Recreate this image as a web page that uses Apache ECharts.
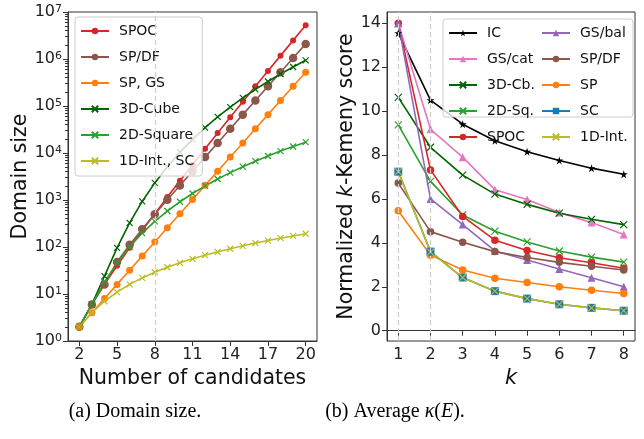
<!DOCTYPE html>
<html><head><meta charset="utf-8">
<script src="https://cdn.jsdelivr.net/npm/echarts@6/dist/echarts.min.js"></script>
<style>html,body{margin:0;padding:0;background:#fff}#c{width:644px;height:439px}</style>
</head><body><div id="c"></div>
<script>
// ---- Panel (a): domain size ----
const candidates = [2,3,4,5,6,7,8,9,10,11,12,13,14,15,16,17,18,19,20];
const spoc   = [2,6,16,40,96,224,512,1152,2560,5632,12288,26624,57344,122880,262144,557056,1179648,2490368,5242880];
const spdf   = [2,6,16,48,112,240,496,1008,2032,4080,8176,16368,32752,65520,131056,262128,524272,1048560,2097136];
const spgs   = [2,4,8,16,32,64,128,256,512,1024,2048,4096,8192,16384,32768,65536,131072,262144,524288];
const cube3  = [2,6,24,96,326,932,2311,5119,10366,19526,34662,58566,94914,148436,225101,332317,479146,676534,937556];
const square2= [2,6,18,46,101,197,351,583,916,1376,1992,2796,3823,5111,6701,8637,10966,13738,17006];
const int1   = [2,4,7,11,16,22,29,37,46,56,67,79,92,106,121,137,154,172,191];
const xTicksA = [2,5,8,11,14,17,20];
const markA = 8;

// ---- Panel (b): normalized k-Kemeny score ----
const kVals  = [1,2,3,4,5,6,7,8];
const ic     = [13.55,10.5,9.4,8.65,8.15,7.75,7.4,7.12];
const gscat  = [14.0,9.17,7.9,6.42,5.97,5.38,4.92,4.38];
const cube3k = [10.62,8.35,7.08,6.22,5.75,5.35,5.07,4.83];
const sq2k   = [9.37,6.8,5.27,4.53,4.04,3.63,3.35,3.12];
const spock  = [14.0,7.32,5.2,4.12,3.65,3.32,3.09,2.84];
const gsbal  = [14.0,6.0,4.83,3.63,3.22,2.81,2.41,2.0];
const spdfk  = [6.72,4.51,4.03,3.6,3.33,3.11,2.93,2.76];
const spk    = [5.46,3.44,2.76,2.39,2.19,2.0,1.84,1.69];
const sck    = [7.24,3.6,2.42,1.8,1.46,1.2,1.04,0.91];
const int1k  = [7.24,3.58,2.42,1.8,1.46,1.2,1.04,0.91];
const xTicksB = [1,2,3,4,5,6,7,8];
const yTicksB = [0,2,4,6,8,10,12,14];
const marksB = [1,2];

const FONT = 'DejaVu Sans';
const XSYM = 'path://M0,0L10,10M10,0L0,10';
const STAR = 'path://M0,-10L2.245,-3.09L9.511,-3.09L3.633,1.18L5.878,8.09L0,3.82L-5.878,8.09L-3.633,1.18L-9.511,-3.09L-2.245,-3.09Z';

const minorA = [];
for (let d = 1; d < 1e7; d *= 10) for (let m = 2; m <= 9; m++) minorA.push(d * m);

function zip(xs, ys){ return xs.map((x,i)=>[x, ys[i]]); }
function ser(name, xs, ys, color, symbol, size, gi, isX){
  return {
    name, type:'line', xAxisIndex: gi, yAxisIndex: gi === 0 ? 0 : 2,
    data: zip(xs, ys), symbol, symbolSize: size, showSymbol:true,
    lineStyle:{color, width:1.6},
    itemStyle: isX ? {color:'rgba(0,0,0,0)', borderColor:color, borderWidth:1.2} : {color, borderColor:color, borderWidth:0},
    color, z: 2
  };
}
function markSeries(gi, vals){
  return {
    type:'line', xAxisIndex: gi, yAxisIndex: gi === 0 ? 0 : 2, data: [], z: 1, silent:true,
    markLine:{ silent:true, symbol:'none', label:{show:false}, animation:false,
      lineStyle:{type:[5,3], color:'#cfcfcf', width:1.2},
      data: vals.map(v=>({xAxis:v})) }
  };
}

const C = {red:'#d62728', brown:'#8c564b', orange:'#ff7f0e', dgreen:'#006400', green:'#2ca02c',
  olive:'#bcbd22', pink:'#e377c2', purple:'#9467bd', blue:'#1f77b4', black:'#000000'};

const axisLineStyle = {show:true, lineStyle:{color:'#333', width:1}};
const tickLabel = {color:'#222', fontSize:16, fontFamily:FONT};
const legendText = {fontSize:14, color:'#111', fontFamily:FONT, padding:[0,0,0,5]};

const option = {
  animation:false,
  textStyle:{fontFamily:FONT},
  grid:[
    {left:68, top:12, width:249, height:329, show:true, borderColor:'#333', borderWidth:1, backgroundColor:'transparent'},
    {left:387, top:12, width:248, height:329, show:true, borderColor:'#333', borderWidth:1, backgroundColor:'transparent'}
  ],
  xAxis:[
    {gridIndex:0, type:'value', min:1.1, max:20.9, axisLine:axisLineStyle,
     axisTick:{show:true, length:5, lineStyle:{color:'#333'}, customValues:xTicksA},
     axisLabel:Object.assign({customValues:xTicksA, margin:6}, tickLabel), splitLine:{show:false},
     name:'Number of candidates', nameLocation:'middle', nameGap:26,
     nameTextStyle:{fontSize:20.5, color:'#111', fontFamily:FONT}},
    {gridIndex:1, type:'value', min:0.65, max:8.35, axisLine:axisLineStyle,
     axisTick:{show:true, length:5, lineStyle:{color:'#333'}, customValues:xTicksB},
     axisLabel:Object.assign({customValues:xTicksB, margin:6}, tickLabel), splitLine:{show:false},
     name:'k', nameLocation:'middle', nameGap:26,
     nameTextStyle:{fontSize:21, color:'#111', fontStyle:'italic', fontFamily:FONT}}
  ],
  yAxis:[
    {gridIndex:0, type:'log', logBase:10, min:1, max:1e7, axisLine:axisLineStyle,
     axisTick:{show:true, length:5, lineStyle:{color:'#333'}},
     axisLabel:Object.assign({margin:6,
       formatter:v=>'10{s|' + Math.round(Math.log10(v)) + '}',
       rich:{s:{fontSize:11, color:'#222', fontFamily:FONT, verticalAlign:'top', lineHeight:10, padding:[0,0,8,0]}}}, tickLabel),
     splitLine:{show:false},
     name:'Domain size', nameLocation:'middle', nameGap:25,
     nameTextStyle:{fontSize:20.5, color:'#111', fontFamily:FONT}},
    {gridIndex:0, type:'log', logBase:10, min:1, max:1e7, position:'left', axisLine:{show:false},
     axisTick:{show:true, length:3, lineStyle:{color:'#333'}, customValues:minorA},
     axisLabel:{show:false}, splitLine:{show:false}},
    {gridIndex:1, type:'value', min:-0.47, max:14.51, axisLine:axisLineStyle,
     axisTick:{show:true, length:5, lineStyle:{color:'#333'}, customValues:yTicksB},
     axisLabel:Object.assign({customValues:yTicksB, margin:6}, tickLabel), splitLine:{show:false},
     name:'Normalized {i|k}-Kemeny score', nameLocation:'middle', nameGap:24,
     nameTextStyle:{fontSize:20.5, color:'#111', fontFamily:FONT,
       rich:{i:{fontSize:20.5, fontStyle:'italic', color:'#111', fontFamily:FONT}}}}
  ],
  legend:[
    {left:75, top:17, orient:'vertical', itemWidth:28, itemHeight:8, itemGap:12,
     padding:[7,8,8,5], backgroundColor:'rgba(255,255,255,0.8)', borderColor:'#ccc', borderWidth:1, borderRadius:3,
     textStyle:legendText,
     data:['SPOC','SP/DF','SP, GS','3D-Cube','2D-Square','1D-Int., SC']},
    {left:443, top:19, orient:'vertical', itemWidth:28, itemHeight:8, itemGap:12,
     padding:[7,0,0,5], textStyle:legendText,
     data:['IC','GS/cat','3D-Cb.','2D-Sq.','SPOC ']},
    {left:541, top:26, orient:'vertical', itemWidth:28, itemHeight:8, itemGap:12,
     padding:0, textStyle:legendText,
     data:['GS/bal','SP/DF ','SP','SC','1D-Int.']}
  ],
  graphic:[
    {type:'rect', z:3, shape:{x:443, y:19, width:190, height:98, r:3},
     style:{fill:'rgba(255,255,255,0.8)', stroke:'#ccc', lineWidth:1}},
    {type:'text', z:10, x:135, y:412, style:{text:'(a) Domain size.', font:'20px "Liberation Serif"', fill:'#000', align:'center', verticalAlign:'middle'}},
    {type:'text', z:10, x:395, y:412, style:{text:'(b) Average {i|κ}({i|E}).', font:'20px "Liberation Serif"', fill:'#000', align:'center', verticalAlign:'middle',
      rich:{i:{font:'italic 20px "Liberation Serif"', fill:'#000'}}}}
  ],
  series:[
    markSeries(0, [markA]),
    ser('SPOC', candidates, spoc, C.red, 'circle', 6, 0),
    ser('SP/DF', candidates, spdf, C.brown, 'circle', 8.5, 0),
    ser('SP, GS', candidates, spgs, C.orange, 'circle', 7, 0),
    ser('3D-Cube', candidates, cube3, C.dgreen, XSYM, 6, 0, true),
    ser('2D-Square', candidates, square2, C.green, XSYM, 6, 0, true),
    ser('1D-Int., SC', candidates, int1, C.olive, XSYM, 6, 0, true),
    markSeries(1, marksB),
    ser('IC', kVals, ic, C.black, STAR, 8, 1),
    ser('GS/cat', kVals, gscat, C.pink, 'triangle', 8, 1),
    ser('3D-Cb.', kVals, cube3k, C.dgreen, XSYM, 7, 1, true),
    ser('2D-Sq.', kVals, sq2k, C.green, XSYM, 7, 1, true),
    ser('SPOC ', kVals, spock, C.red, 'circle', 7.5, 1),
    ser('GS/bal', kVals, gsbal, C.purple, 'triangle', 8, 1),
    ser('SP/DF ', kVals, spdfk, C.brown, 'circle', 7.5, 1),
    ser('SP', kVals, spk, C.orange, 'circle', 7.5, 1),
    ser('SC', kVals, sck, C.blue, 'rect', 8, 1),
    ser('1D-Int.', kVals, int1k, C.olive, XSYM, 7, 1, true)
  ]
};
const chart = echarts.init(document.getElementById('c'), null, {renderer:'canvas'});
chart.setOption(option);
</script></body></html>
